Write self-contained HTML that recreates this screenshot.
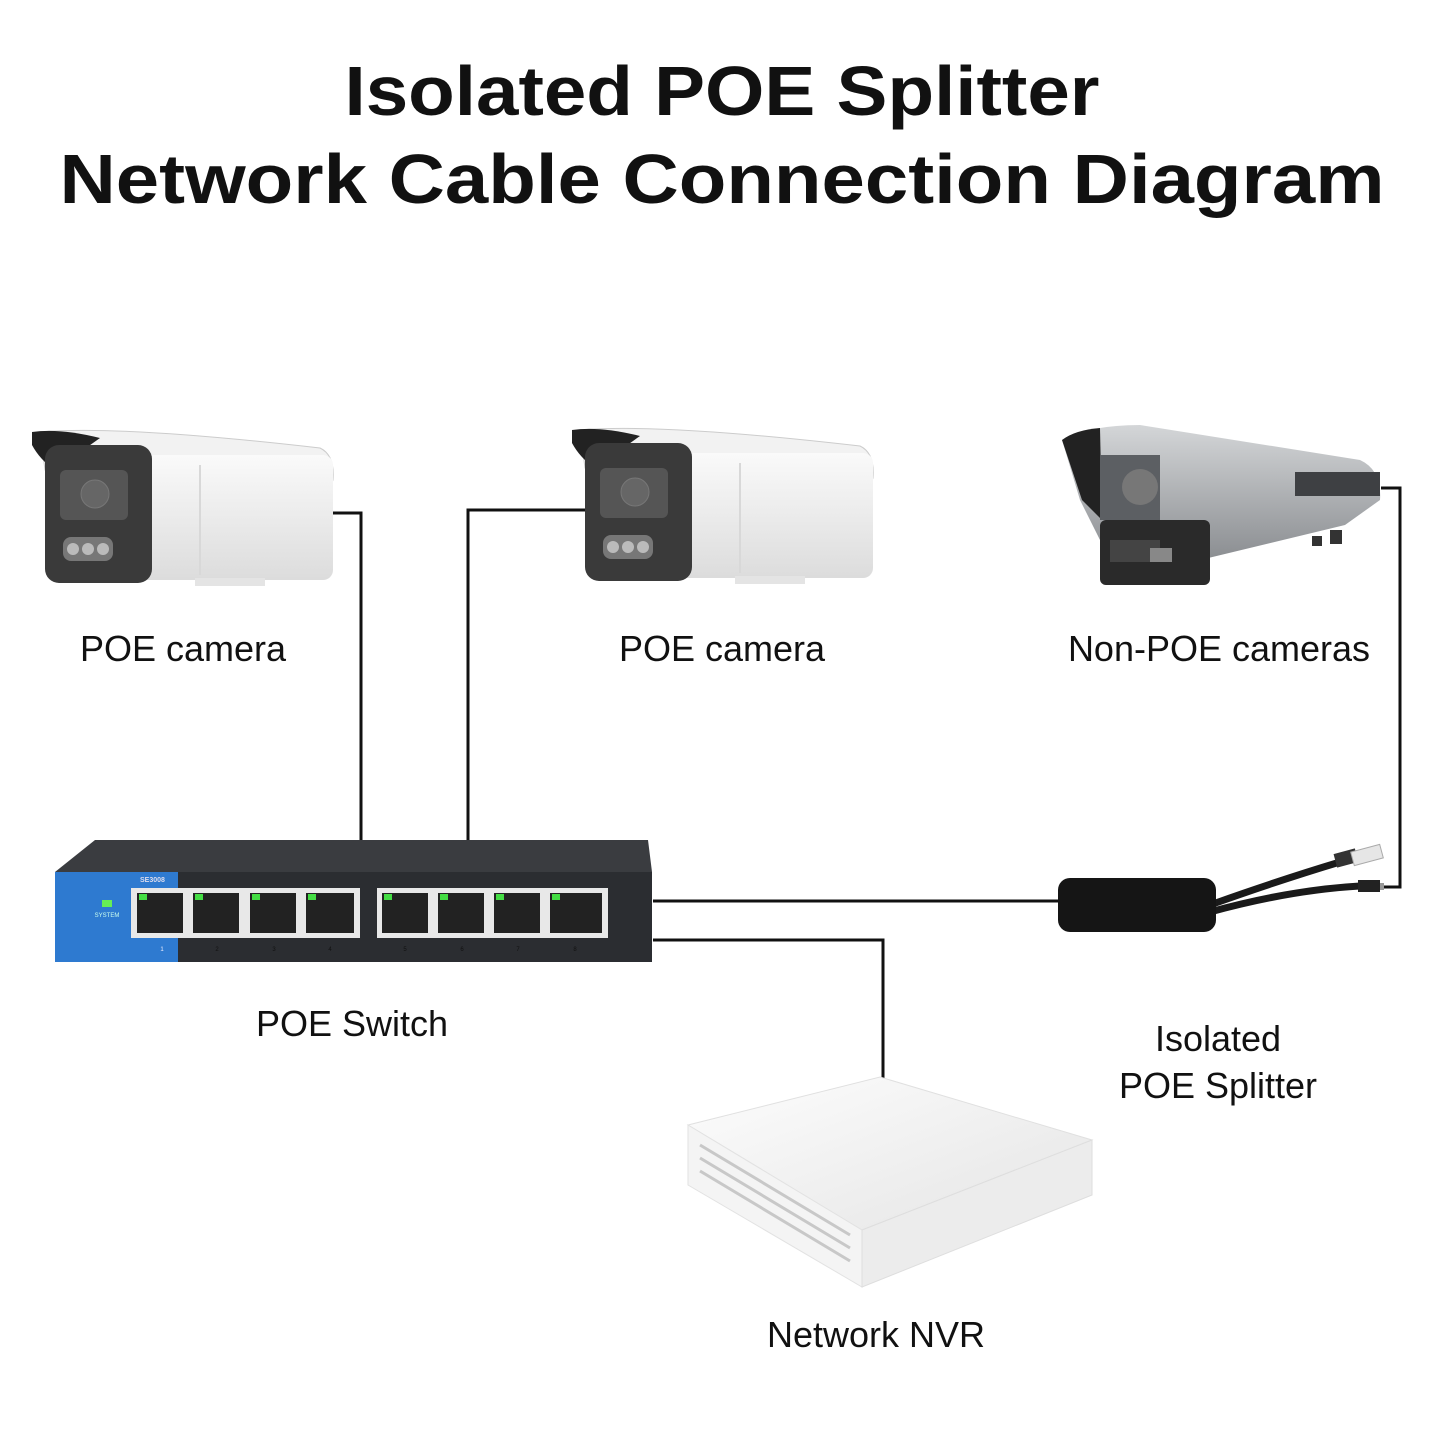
<!DOCTYPE html>
<html><head><meta charset="utf-8"><style>
html,body{margin:0;padding:0;background:#fff;}
svg{display:block;}
text{font-family:"Liberation Sans","DejaVu Sans",sans-serif;fill:#111;}
</style></head><body>
<svg width="1445" height="1445" viewBox="0 0 1445 1445" xmlns="http://www.w3.org/2000/svg">
<defs>
<linearGradient id="wb" x1="0" y1="0" x2="0" y2="1"><stop offset="0" stop-color="#fafafa"/><stop offset="1" stop-color="#dcdcdc"/></linearGradient>
<linearGradient id="gb" x1="0" y1="0" x2="0" y2="1"><stop offset="0" stop-color="#d4d6d8"/><stop offset="1" stop-color="#7d8084"/></linearGradient>
<linearGradient id="nv" x1="0" y1="0" x2="1" y2="1"><stop offset="0" stop-color="#fdfdfd"/><stop offset="1" stop-color="#e4e4e4"/></linearGradient>
</defs>
<text x="722" y="115" font-size="70" font-weight="bold" text-anchor="middle" textLength="755" lengthAdjust="spacingAndGlyphs">Isolated POE Splitter</text>
<text x="722" y="203" font-size="70" font-weight="bold" text-anchor="middle" textLength="1325" lengthAdjust="spacingAndGlyphs">Network Cable Connection Diagram</text>

<!-- connectors -->
<g stroke="#111" stroke-width="3" fill="none">
<polyline points="333,513 361,513 361,840"/>
<polyline points="590,510 468,510 468,840"/>
<polyline points="1381,488 1400,488 1400,887 1383,887"/>
<polyline points="653,901 1058,901"/>
<polyline points="653,940 883,940 883,1078"/>
</g>

<!-- camera 1 -->
<g id="cam">
<path d="M40,432 Q120,425 320,448 Q335,455 333,480 L330,488 L200,470 L45,470 Z" fill="#f2f2f2" stroke="#ccc"/>
<rect x="130" y="455" width="203" height="125" rx="10" fill="url(#wb)"/>
<path d="M200,465 L200,575" stroke="#d8d8d8" stroke-width="2"/>
<path d="M32,432 Q60,428 100,438 L55,470 Q40,460 32,445 Z" fill="#222"/>
<rect x="45" y="445" width="107" height="138" rx="14" fill="#3a3a3a"/>
<rect x="60" y="470" width="68" height="50" rx="6" fill="#555"/>
<circle cx="95" cy="494" r="14" fill="#666" stroke="#777"/>
<rect x="63" y="537" width="50" height="24" rx="8" fill="#777"/>
<circle cx="73" cy="549" r="6" fill="#bbb"/><circle cx="88" cy="549" r="6" fill="#bbb"/><circle cx="103" cy="549" r="6" fill="#bbb"/>
<rect x="195" y="578" width="70" height="8" fill="#e4e4e4"/>
</g>
<use href="#cam" transform="translate(540,-2)"/>

<!-- non-POE camera -->
<path d="M1062,440 Q1090,425 1140,425 L1360,460 Q1382,470 1380,500 L1345,525 L1200,560 L1180,585 L1110,585 L1100,540 L1080,500 Z" fill="url(#gb)"/>
<path d="M1062,440 Q1075,430 1100,428 L1102,520 L1082,500 Z" fill="#222"/>
<rect x="1100" y="455" width="60" height="65" fill="#5c5f63"/>
<circle cx="1140" cy="487" r="18" fill="#777"/>
<rect x="1100" y="520" width="110" height="65" rx="6" fill="#2a2a2a"/>
<rect x="1110" y="540" width="50" height="22" fill="#444"/>
<rect x="1150" y="548" width="22" height="14" fill="#888"/>
<rect x="1295" y="472" width="85" height="24" fill="#3e4043"/>
<rect x="1330" y="530" width="12" height="14" fill="#333"/><rect x="1312" y="536" width="10" height="10" fill="#333"/>

<!-- switch -->
<polygon points="95,840 648,840 652,872 55,872" fill="#3a3c40"/>
<rect x="55" y="872" width="597" height="90" fill="#2b2d31"/>
<rect x="55" y="872" width="123" height="90" fill="#2e7ad0"/>
<rect x="102" y="900" width="10" height="7" fill="#66ee55"/>
<text x="107" y="917" font-size="6" text-anchor="middle" style="fill:#cfe">SYSTEM</text>
<text x="140" y="882" font-size="7" font-weight="bold" style="fill:#dde">SE3008</text>
<rect x="131" y="888" width="229" height="50" fill="#e8e8e8"/>
<rect x="377" y="888" width="231" height="50" fill="#e8e8e8"/>
<g fill="#222">
<rect x="137" y="893" width="46" height="40"/><rect x="193" y="893" width="46" height="40"/><rect x="250" y="893" width="46" height="40"/><rect x="306" y="893" width="48" height="40"/>
<rect x="382" y="893" width="46" height="40"/><rect x="438" y="893" width="46" height="40"/><rect x="494" y="893" width="46" height="40"/><rect x="550" y="893" width="52" height="40"/>
</g>
<g fill="#44dd44">
<rect x="139" y="894" width="8" height="6"/><rect x="195" y="894" width="8" height="6"/><rect x="252" y="894" width="8" height="6"/><rect x="308" y="894" width="8" height="6"/>
<rect x="384" y="894" width="8" height="6"/><rect x="440" y="894" width="8" height="6"/><rect x="496" y="894" width="8" height="6"/><rect x="552" y="894" width="8" height="6"/>
</g>
<g font-size="6" text-anchor="middle" style="fill:#ccc">
<text x="162" y="951" style="fill:#eef">1</text><text x="217" y="951">2</text><text x="274" y="951">3</text><text x="330" y="951">4</text>
<text x="405" y="951">5</text><text x="462" y="951">6</text><text x="518" y="951">7</text><text x="575" y="951">8</text>
</g>

<!-- splitter -->
<path d="M1210,905 Q1280,880 1340,862" stroke="#1a1a1a" stroke-width="7" fill="none"/>
<path d="M1210,912 Q1290,890 1360,886" stroke="#1a1a1a" stroke-width="7" fill="none"/>
<rect x="1335" y="851" width="22" height="14" fill="#333" transform="rotate(-15 1346 858)"/>
<rect x="1352" y="848" width="30" height="14" fill="#e6e6e6" stroke="#aaa" transform="rotate(-15 1367 855)"/>
<rect x="1358" y="880" width="22" height="12" fill="#222"/>
<rect x="1380" y="883" width="4" height="7" fill="#999"/>
<rect x="1058" y="878" width="158" height="54" rx="12" fill="#151515"/>

<!-- NVR -->
<polygon points="688,1125 880,1077 1092,1140 862,1230" fill="url(#nv)" stroke="#e0e0e0"/>
<polygon points="688,1125 862,1230 862,1287 688,1185" fill="#f4f4f4" stroke="#e2e2e2"/>
<polygon points="862,1230 1092,1140 1092,1195 862,1287" fill="#ececec" stroke="#dedede"/>
<g stroke="#c8c8c8" stroke-width="3">
<line x1="700" y1="1145" x2="850" y2="1235"/><line x1="700" y1="1158" x2="850" y2="1248"/><line x1="700" y1="1171" x2="850" y2="1261"/>
</g>

<!-- labels -->
<g font-size="36" text-anchor="middle">
<text x="183" y="661">POE camera</text>
<text x="722" y="661">POE camera</text>
<text x="1219" y="661">Non-POE cameras</text>
<text x="352" y="1036">POE Switch</text>
<text x="1218" y="1051">Isolated</text>
<text x="1218" y="1098">POE Splitter</text>
<text x="876" y="1347">Network NVR</text>
</g>
</svg>
</body></html>
